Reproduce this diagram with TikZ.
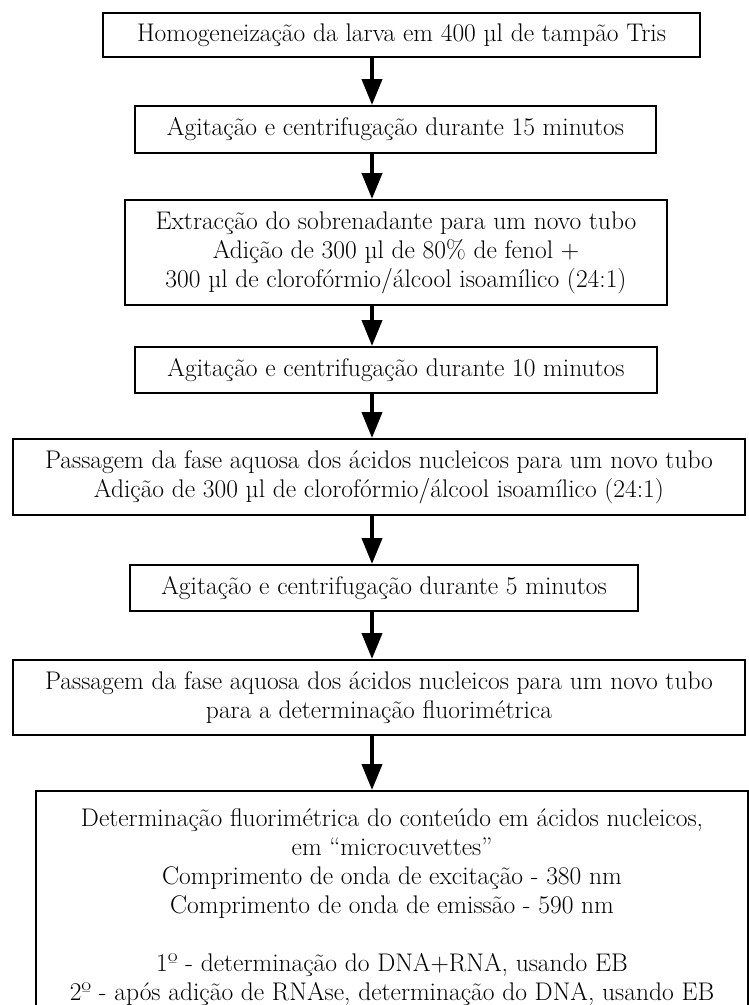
\documentclass[tikz,border=0pt]{standalone}
\usetikzlibrary{arrows.meta}
\begin{document}
\begin{tikzpicture}[x=1pt,y=-1pt,
    box/.style={draw,line width=2pt,align=center,inner sep=0pt,font=\fontsize{25.5}{29}\selectfont},
    flow/.style={line width=4pt,-{Triangle[width=20pt,length=26pt]}}]
    \path[use as bounding box,clip] (0,0) rectangle (749,1005);
    \fill[white] (0,0) rectangle (749,1005);
    \coordinate (ax) at (372,0);

    \node[box,minimum width=597pt,minimum height=44pt] (homog) at (401.5,35) {Homogeneização da larva em 400 µl de tampão Tris};
    \node[box,minimum width=521pt,minimum height=47pt] (agit15) at (395.5,129.5) {Agitação e centrifugação durante 15 minutos};
    \node[box,minimum width=542pt,minimum height=105pt] (extrac) at (396,252.5) {Extracção do sobrenadante para um novo tubo\\Adição de 300 µl de 80\% de fenol +\\300 µl de clorofórmio/álcool isoamílico (24:1)};
    \node[box,minimum width=522pt,minimum height=46pt] (agit10) at (396,370) {Agitação e centrifugação durante 10 minutos};
    \node[box,minimum width=732pt,minimum height=76pt] (pass1) at (379,477) {Passagem da fase aquosa dos ácidos nucleicos para um novo tubo\\Adição de 300 µl de clorofórmio/álcool isoamílico (24:1)};
    \node[box,minimum width=508pt,minimum height=46pt] (agit5) at (384,588) {Agitação e centrifugação durante 5 minutos};
    \node[box,minimum width=732pt,minimum height=75pt] (pass2) at (379,697.5) {Passagem da fase aquosa dos ácidos nucleicos para um novo tubo\\para a determinação fluorimétrica};
    \node[box,minimum width=712pt,minimum height=232pt,anchor=north] (fluor) at (392,790) {Determinação fluorimétrica do conteúdo em ácidos nucleicos,\\em “microcuvettes”\\Comprimento de onda de excitação - 380 nm\\Comprimento de onda de emissão - 590 nm\\[29pt]1º - determinação do DNA+RNA, usando EB\\2º - após adição de RNAse, determinação do DNA, usando EB};

    \foreach \a/\b in {homog/agit15,agit15/extrac,extrac/agit10,agit10/pass1,pass1/agit5,agit5/pass2,pass2/fluor}
        \draw[flow] (\a.south -| ax) -- (\b.north -| ax);
\end{tikzpicture}
\end{document}
